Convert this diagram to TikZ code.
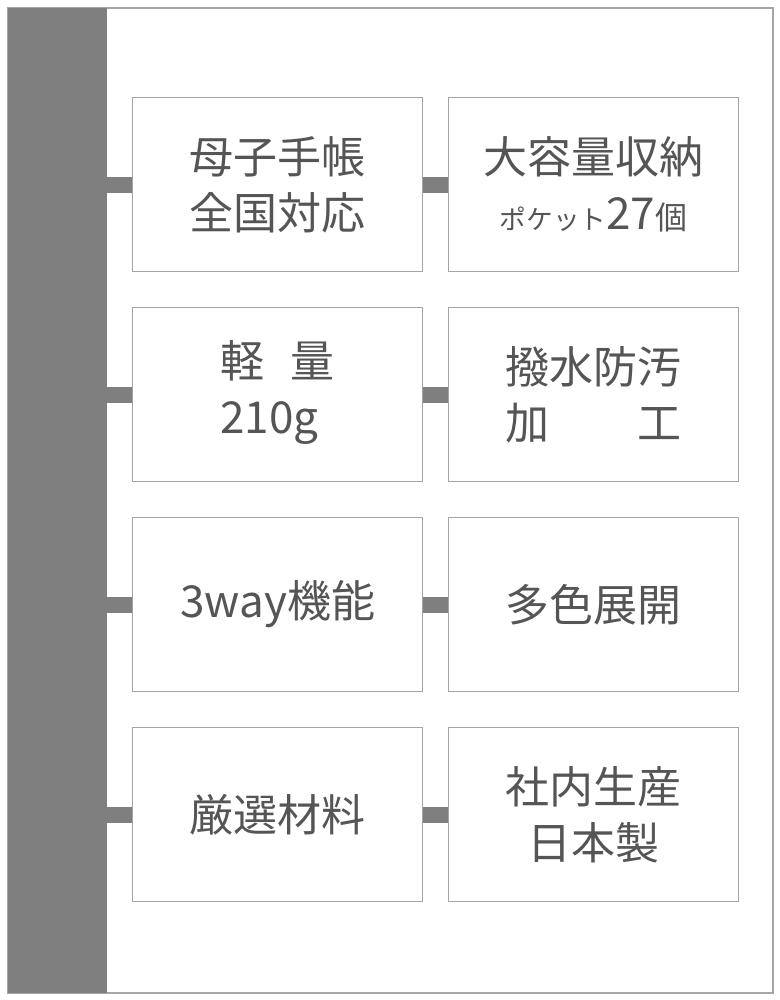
\documentclass[tikz,border=0pt]{standalone}
\usepackage{fontspec}
\newfontfamily\jp{Noto Sans CJK JP}
\usetikzlibrary{positioning}
\definecolor{bargray}{HTML}{7F7F7F}
\definecolor{txtgray}{HTML}{555555}
\tikzset{
  feat/.style={draw=bargray!70,line width=0.8pt,minimum width=218pt,minimum height=131pt,
    font=\jp\fontsize{33}{42}\selectfont,text=txtgray,align=center,inner sep=0pt},
  link/.style={draw=none,fill=bargray}
}
\begin{document}
\begin{tikzpicture}[x=0.75pt,y=-0.75pt]
\useasboundingbox (0,0) rectangle (780,1000);
\draw[bargray!70,line width=0.8pt,fill=white] (8,8) rectangle (773,993);
\fill[bargray] (8,8) rectangle (107,993);
% feature boxes
\node[feat] (a1) at (277.5,184.5) {母子手帳\\全国対応};
\node[feat] (b1) at (593.5,184.5) {大容量収納\\{\fontsize{20}{20}\selectfont ポケット}27{\fontsize{24}{24}\selectfont 個}};
\node[feat] (a2) at (277.5,394.5) {\begin{tabular}{@{}l@{}}軽\hspace{0.6em}量\\210g\end{tabular}};
\node[feat] (b2) at (593.5,394.5) {撥水防汚\\加\hspace{2em}工};
\node[feat] (a3) at (277.5,604.5) {3way機能};
\node[feat] (b3) at (593.5,604.5) {多色展開};
\node[feat] (a4) at (277.5,814.5) {厳選材料};
\node[feat] (b4) at (593.5,814.5) {社内生産\\日本製};
% connectors
\foreach \r in {1,...,4}{
  \path (a\r.west) ++(-25,-8) coordinate (p) (a\r.west) ++(0,8) coordinate (q);
  \fill[link] (p) rectangle (q);
  \path (a\r.east) ++(0,-8) coordinate (p) (b\r.west) ++(0,8) coordinate (q);
  \fill[link] (p) rectangle (q);
}
\end{tikzpicture}
\end{document}
